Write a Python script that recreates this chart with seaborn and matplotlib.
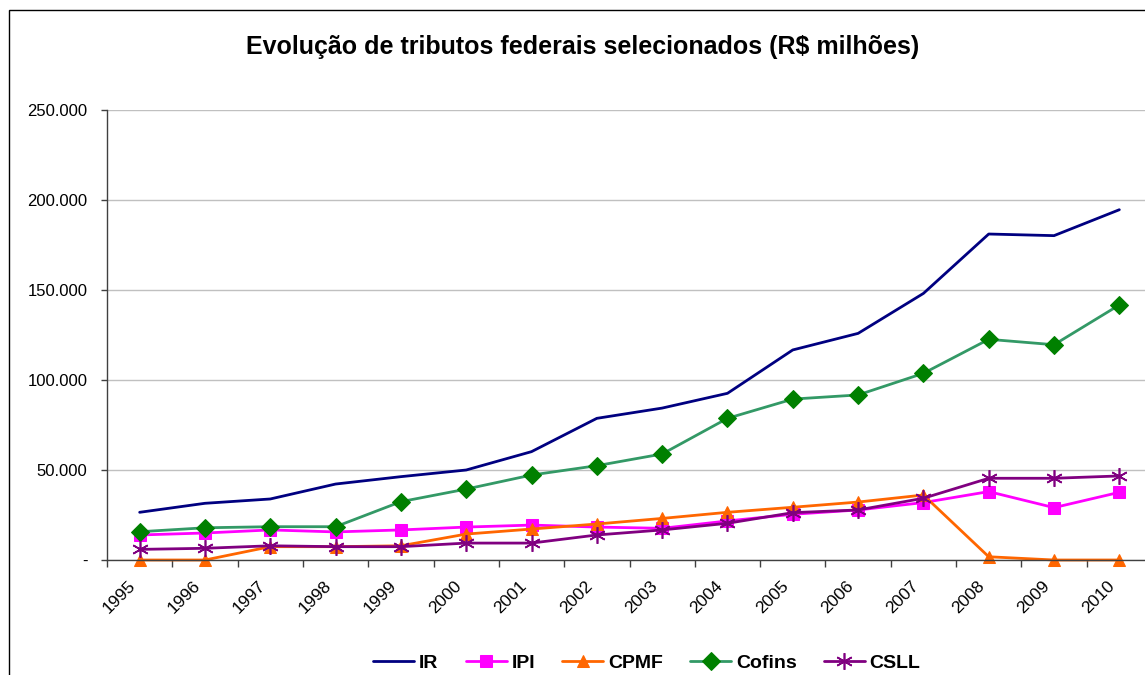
import numpy as np
import pandas as pd
import matplotlib
import matplotlib.pyplot as plt
import seaborn as sns
from matplotlib.patches import Rectangle
from matplotlib.ticker import FuncFormatter, FixedLocator
from matplotlib.transforms import ScaledTranslation

matplotlib.use('Agg')

anos = [str(a) for a in range(1995, 2011)]

# valores em R$ milhoes
ir = [26500, 31500, 33900, 42200, 46300, 50000, 60200, 78700, 84400, 92600,
      116700, 125900, 148100, 181100, 180200, 194600]
ipi = [13900, 15000, 16700, 15600, 16700, 18300, 19400, 18300, 17600, 21700,
       25400, 27800, 31900, 38000, 29100, 37600]
cpmf = [0, 0, 7400, 7400, 7900, 14400, 17200, 20000, 23100, 26500,
        29300, 32200, 36100, 1800, 0, 0]
cofins = [15700, 17900, 18500, 18500, 32400, 39400, 47200, 52400, 58900, 78700,
          89400, 91700, 103700, 122600, 119600, 141700]
csll = [5900, 6500, 7900, 7400, 7400, 9400, 9400, 13900, 16700, 20400,
        26300, 27800, 34300, 45400, 45400, 46700]

df = pd.DataFrame({'pos': np.arange(len(anos)), 'ano': anos, 'IR': ir, 'IPI': ipi,
                   'CPMF': cpmf, 'Cofins': cofins, 'CSLL': csll})

sns.set_style('white')
plt.rcParams['font.family'] = ['Liberation Sans', 'DejaVu Sans']
plt.rcParams['text.color'] = 'black'
plt.rcParams['xtick.color'] = 'black'
plt.rcParams['ytick.color'] = 'black'
plt.rcParams['axes.labelcolor'] = 'black'

fig = plt.figure(figsize=(11.45, 6.75), dpi=100)
ax = fig.add_axes([107 / 1145, 115 / 675, 1045 / 1145, 450 / 675])

estilos = [
    ('IR', dict(color='#000080', lw=2)),
    ('IPI', dict(color='#FF00FF', lw=2, marker='s', markersize=9,
                 markerfacecolor='#FF00FF', markeredgecolor='#FF00FF')),
    ('CPMF', dict(color='#FF6600', lw=2, marker='^', markersize=8,
                  markerfacecolor='#FF6600', markeredgecolor='#FF6600')),
    ('Cofins', dict(color='#339966', lw=2, marker='D', markersize=9,
                    markerfacecolor='#008000', markeredgecolor='#008000')),
    ('CSLL', dict(color='#800080', lw=2, marker=(6, 2, 0), markersize=12,
                  markeredgewidth=1.2, markeredgecolor='#800080')),
]
for nome, kw in estilos:
    sns.lineplot(data=df, x='pos', y=nome, ax=ax, label=nome, clip_on=False, **kw)

ax.set_xlim(-0.5, 15.5)
ax.set_ylim(0, 250000)
ax.set_yticks(np.arange(0, 250001, 50000))
ax.yaxis.set_major_formatter(FuncFormatter(
    lambda v, p: '-' if v == 0 else f'{int(v):,}'.replace(',', '.')))
ax.grid(axis='y', color='#c0c0c0', lw=1)
ax.set_axisbelow(True)

ax.set_xticks(df['pos'])
ax.set_xticklabels(df['ano'], rotation=45, ha='right', va='center',
                   rotation_mode='anchor')
ax.xaxis.set_minor_locator(FixedLocator(np.arange(-0.5, 16, 1)))
ax.tick_params(axis='x', which='major', length=0, pad=17, labelsize=12.5,
               labelcolor='black')
ax.tick_params(axis='x', which='minor', length=5, width=1, color='#404040',
               direction='out', bottom=True)
ax.tick_params(axis='y', length=4, width=1, color='#404040', direction='out',
               left=True, pad=10, labelsize=12, labelcolor='black')
for lab in ax.get_xticklabels():
    lab.set_transform(lab.get_transform() + ScaledTranslation(-7 / 100, 0, fig.dpi_scale_trans))

for s in ['top', 'right']:
    ax.spines[s].set_visible(False)
for s in ['left', 'bottom']:
    ax.spines[s].set_color('#404040')
    ax.spines[s].set_linewidth(1)
ax.set_xlabel('')
ax.set_ylabel('')

handles, labels = ax.get_legend_handles_labels()
ax.get_legend().remove()
fig.legend(handles, labels, loc='center', bbox_to_anchor=(0.565, 0.018), ncol=5,
           frameon=False, prop={'weight': 'bold', 'size': 14},
           handlelength=2.1, handletextpad=0.25, columnspacing=1.4,
           labelcolor='black')

fig.text(0.509, 0.930, 'Evolução de tributos federais selecionados (R$ milhões)',
         ha='center', va='center', fontsize=18, fontweight='bold', color='black')

fig.patches.append(Rectangle((9 / 1145, -0.1), 2, (675 - 10.5) / 675 + 0.1,
                             transform=fig.transFigure, fill=False,
                             edgecolor='black', lw=1))

plt.savefig('out.png', dpi=100)
plt.close()
